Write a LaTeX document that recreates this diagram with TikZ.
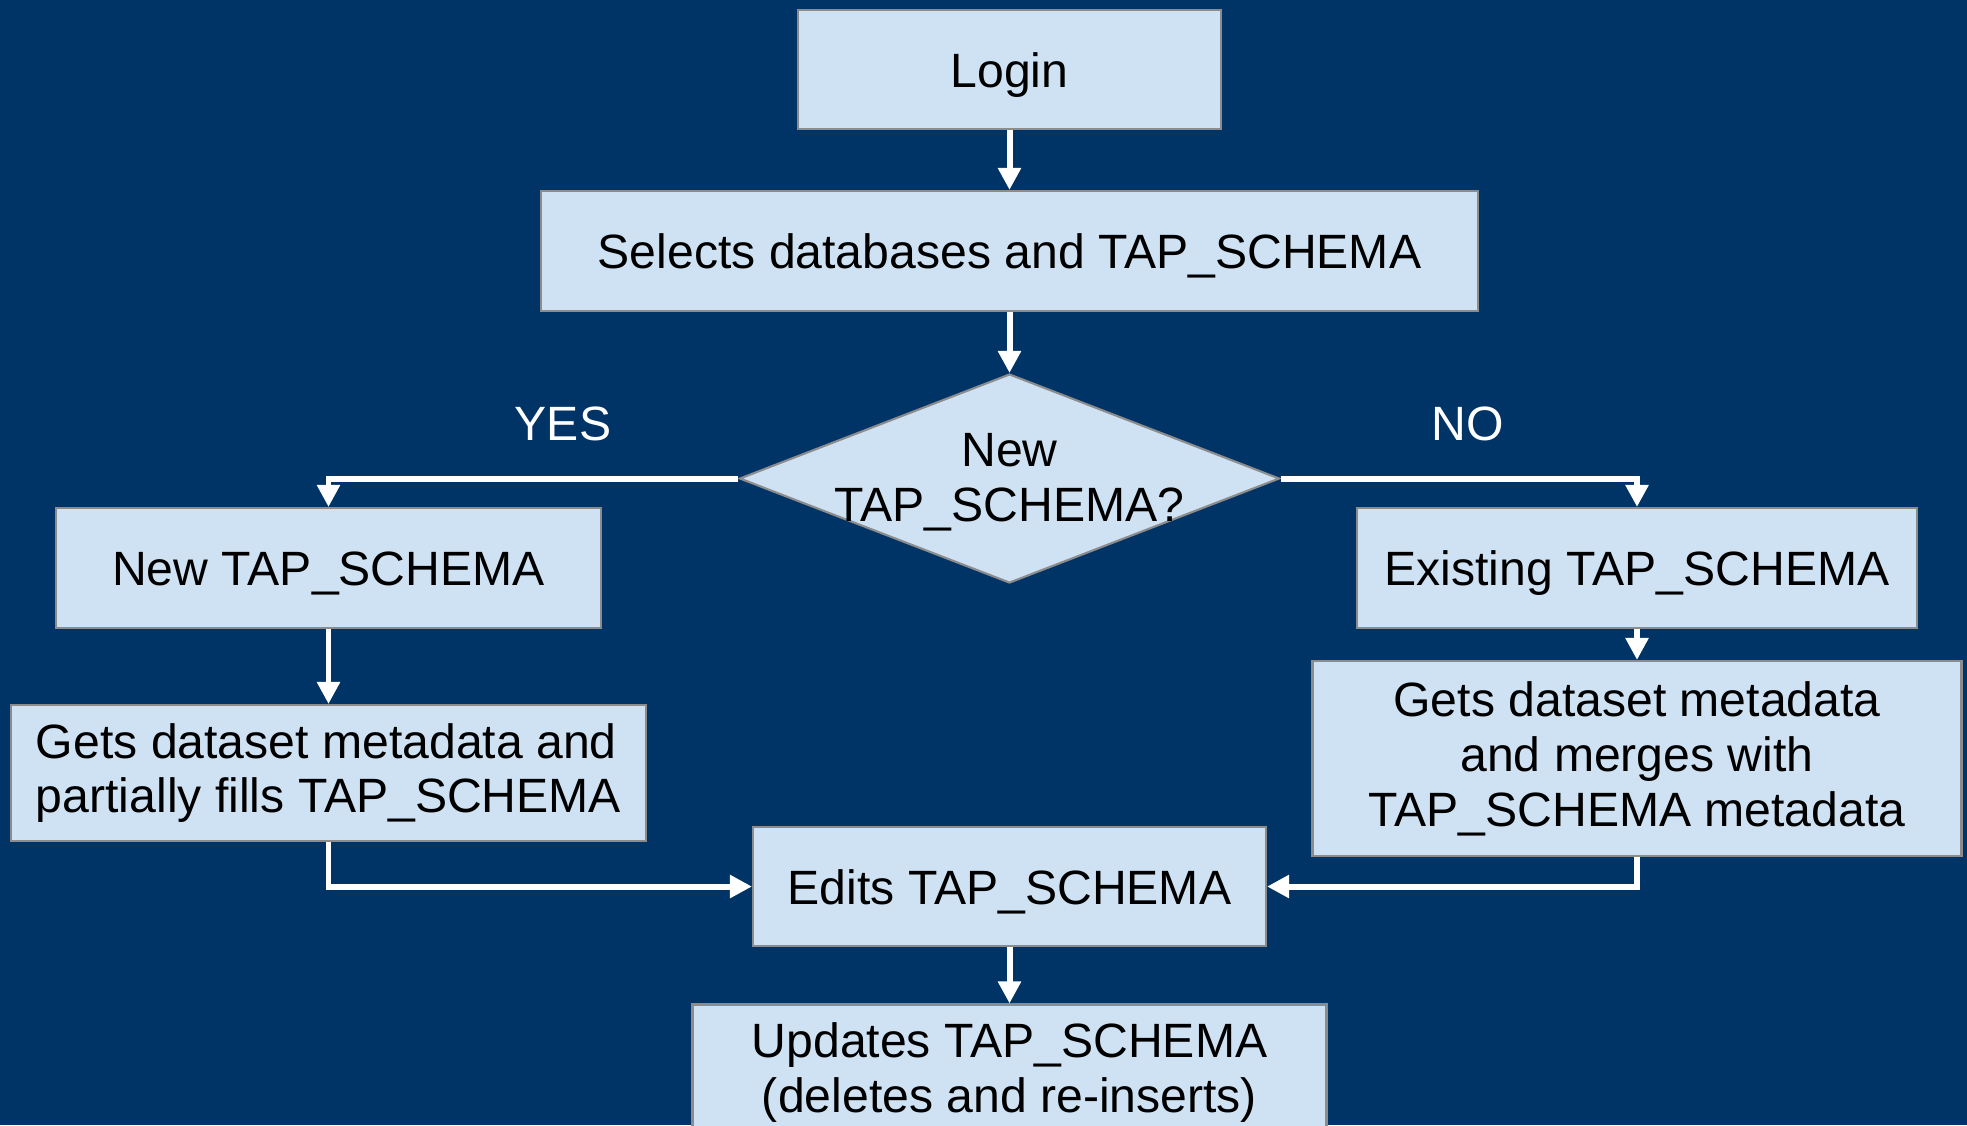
\documentclass[tikz,border=0pt]{standalone}
\usepackage{fontspec}
\setmainfont{Liberation Sans}
\usetikzlibrary{shapes.geometric,arrows.meta}
\definecolor{slidebg}{HTML}{003366}
\definecolor{boxfill}{HTML}{CFE2F3}
\definecolor{boxline}{HTML}{8C8C8C}
\tikzset{my box/.style={draw=boxline, fill=boxfill, line width=0.6pt, align=center, inner sep=0pt, font=\fontsize{13.7}{15.6}\selectfont},
my line/.style={my box, text height=0.45cm, text depth=0.1cm},
my diamond/.style={diamond, draw=boxline, fill=boxfill, line width=0.6pt, inner sep=0pt},
my arrow/.style={draw=white, line width=1.7pt, -{Triangle[width=0.22cm,length=0.22cm]}},
my label/.style={text=white, font=\fontsize{13.7}{15.6}\selectfont},}

\begin{document}
\begin{tikzpicture}
\useasboundingbox (0,0) rectangle (19.67,-11.25);
\clip (0,0) rectangle (19.67,-11.25);
\fill [slidebg] (0,0) rectangle (19.67,-11.25);
\node [my line, minimum width=4.23cm, minimum height=1.19cm] (login) at ( 10.095, -0.695) {Login};
\node [my line, minimum width=9.37cm, minimum height=1.20cm] (select) at ( 10.095, -2.510) {Selects databases and TAP\_SCHEMA};
\node [my diamond, minimum width=5.40cm, minimum height=2.09cm,
       label={[my label, text=black, align=center, yshift=-0.04cm]center:{New\\TAP\_SCHEMA?}}] (newq) at ( 10.095, -4.785) {};
\node [my line, minimum width=5.45cm, minimum height=1.20cm] (newts) at (  3.285, -5.680) {New TAP\_SCHEMA};
\node [my line, minimum width=5.60cm, minimum height=1.20cm] (oldts) at ( 16.370, -5.680) {Existing TAP\_SCHEMA};
\node [my box, minimum width=6.35cm, minimum height=1.36cm, align=left] (fill) at (  3.285, -7.730) {Gets dataset metadata and\\partially fills TAP\_SCHEMA};
\node [my box, minimum width=6.49cm, minimum height=1.95cm] (merge) at ( 16.370, -7.585) {Gets dataset metadata\\and merges with\\TAP\_SCHEMA metadata};
\node [my line, minimum width=5.13cm, minimum height=1.19cm] (edits) at ( 10.095, -8.865) {Edits TAP\_SCHEMA};
\node [my box, minimum width=6.34cm, minimum height=1.36cm] (update) at ( 10.095,-10.725) {Updates TAP\_SCHEMA\\(deletes and re-inserts)};
\node [my label] (yes) at (  5.630, -4.240) {YES};
\node [my label] (no) at ( 14.680, -4.240) {NO};
\draw [my arrow] (login) -- (select);
\draw [my arrow] (select) -- (newq);
\draw [my arrow] (newq.west) -| (newts.north);
\draw [my arrow] (newq.east) -| (oldts.north);
\draw [my arrow] (newts) -- (fill);
\draw [my arrow] (oldts) -- (merge);
\draw [my arrow] (fill.south) |- (edits.west);
\draw [my arrow] (merge.south) |- (edits.east);
\draw [my arrow] (edits) -- (update);
\end{tikzpicture}
\end{document}
